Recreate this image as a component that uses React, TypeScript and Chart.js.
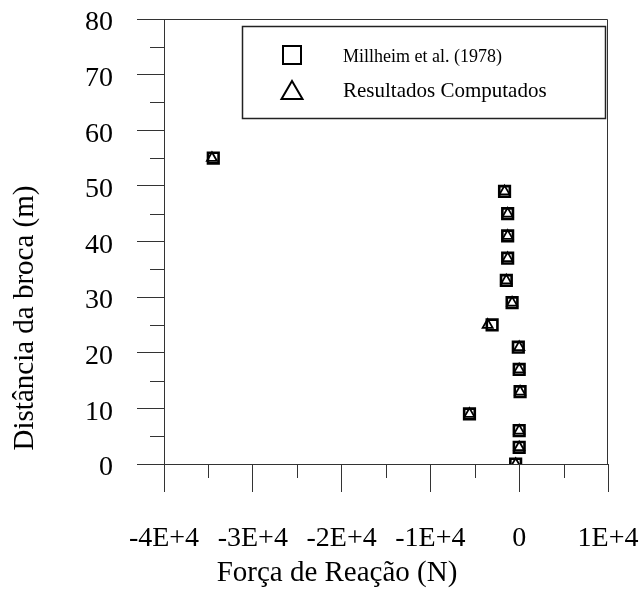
import React, { useEffect, useRef } from 'react';
import { Chart, registerables } from 'chart.js';

Chart.register(...registerables);

// ---- Data ----
const depths = [0, 3, 6, 9, 13, 17, 21, 25, 29, 33, 37, 41, 45, 49, 55];
const forceMillheim = [-400, 0, 0, -5600, 100, 0, -100, -3050, -800, -1450, -1300, -1300, -1300, -1650, -34450];
const forceComputed = [-400, 0, 0, -5600, 100, 0, 0, -3550, -800, -1450, -1300, -1300, -1300, -1650, -34600];
const seriesLabels = ['Millheim et al. (1978)', 'Resultados Computados'];
const xTitle = 'Força de Reação (N)';
const yTitle = 'Distância da broca (m)';
const xMin = -40000;
const xMax = 10000;
const xStep = 10000;
const yMin = 0;
const yMax = 80;
const yStep = 10;

const FONT = "'Liberation Serif', 'Times New Roman', serif";
const LINE = '#333';

const framePlugin = {
  id: 'frameAndLegend',
  afterDraw(chart: any) {
    const { ctx, chartArea, scales } = chart;
    const x = scales.x;
    const y = scales.y;
    ctx.save();
    ctx.strokeStyle = LINE;
    ctx.lineWidth = 1;
    ctx.beginPath();
    // minor ticks
    for (let v = yMin + yStep / 2; v < yMax; v += yStep) {
      const py = Math.round(y.getPixelForValue(v)) + 0.5;
      ctx.moveTo(chartArea.left - 14, py);
      ctx.lineTo(chartArea.left, py);
    }
    for (let v = xMin + xStep / 2; v < xMax; v += xStep) {
      const px = Math.round(x.getPixelForValue(v)) + 0.5;
      ctx.moveTo(px, chartArea.bottom);
      ctx.lineTo(px, chartArea.bottom + 14);
    }
    // top and right frame
    const t = Math.round(chartArea.top) + 0.5;
    const r = Math.round(chartArea.right) - 0.5;
    ctx.moveTo(chartArea.left, t);
    ctx.lineTo(r, t);
    ctx.lineTo(r, chartArea.bottom);
    ctx.stroke();

    // axis titles
    ctx.fillStyle = '#000';
    ctx.font = `29px ${FONT}`;
    ctx.textAlign = 'center';
    ctx.textBaseline = 'alphabetic';
    ctx.fillText(xTitle, 337, 581);
    ctx.save();
    ctx.translate(33, 318);
    ctx.rotate(-Math.PI / 2);
    ctx.fillText(yTitle, 0, 0);
    ctx.restore();

    // legend box
    ctx.strokeStyle = '#222';
    ctx.lineWidth = 1.5;
    ctx.strokeRect(242.5, 26.5, 363, 92);

    // legend markers
    ctx.strokeStyle = '#000';
    ctx.lineWidth = 2;
    ctx.strokeRect(283, 46, 18, 18);
    ctx.beginPath();
    ctx.moveTo(292, 81);
    ctx.lineTo(302.5, 99);
    ctx.lineTo(281.5, 99);
    ctx.closePath();
    ctx.stroke();

    // legend text
    ctx.fillStyle = '#000';
    ctx.textAlign = 'left';
    ctx.textBaseline = 'middle';
    ctx.font = `18px ${FONT}`;
    ctx.fillText(seriesLabels[0], 343, 57);
    ctx.font = `21px ${FONT}`;
    ctx.fillText(seriesLabels[1], 343, 91);
    ctx.restore();
  },
};

export default function App() {
  const ref = useRef<HTMLCanvasElement>(null);

  useEffect(() => {
    if (!ref.current) return;
    const chart = new Chart(ref.current, {
      type: 'scatter',
      data: {
        datasets: [
          {
            label: seriesLabels[0],
            data: depths.map((d, i) => ({ x: forceMillheim[i], y: d })),
            pointStyle: 'rect',
            pointRadius: 7.5,
            pointBorderWidth: 2.6,
            pointBorderColor: '#000',
            pointBackgroundColor: 'rgba(0,0,0,0)',
          },
          {
            label: seriesLabels[1],
            data: depths.map((d, i) => ({ x: forceComputed[i], y: d })),
            pointStyle: 'triangle',
            pointRadius: 5.8,
            pointBorderWidth: 1.8,
            pointBorderColor: '#000',
            pointBackgroundColor: '#fff',
          },
        ],
      },
      options: {
        responsive: false,
        animation: false,
        events: [],
        layout: { padding: { top: 19, right: 36, bottom: 0, left: 0 } },
        plugins: {
          legend: { display: false },
          tooltip: { enabled: false },
        },
        scales: {
          x: {
            type: 'linear',
            min: xMin,
            max: xMax,
            afterFit: (s: any) => {
              s.height = 128;
              s.paddingLeft = 0;
              s.paddingRight = 0;
            },
            ticks: {
              stepSize: xStep,
              padding: 30,
              color: '#000',
              font: { family: FONT, size: 28 },
              maxRotation: 0,
              autoSkip: false,
              callback: (v: any) => (v === 0 ? '0' : `${v / 10000}E+4`),
            },
            grid: {
              drawOnChartArea: false,
              drawTicks: true,
              tickLength: 28,
              color: LINE,
            },
            border: { display: true, color: LINE, width: 1 },
            title: { display: false },
          },
          y: {
            type: 'linear',
            min: yMin,
            max: yMax,
            afterFit: (s: any) => {
              s.width = 164;
              s.paddingTop = 0;
              s.paddingBottom = 0;
            },
            ticks: {
              stepSize: yStep,
              padding: 24,
              labelOffset: 4,
              color: '#000',
              font: { family: FONT, size: 28 },
              autoSkip: false,
            },
            grid: {
              drawOnChartArea: false,
              drawTicks: true,
              tickLength: 27,
              color: LINE,
            },
            border: { display: true, color: LINE, width: 1 },
            title: { display: false },
          },
        },
      },
      plugins: [framePlugin],
    });
    return () => chart.destroy();
  }, []);

  return (
    <div style={{ position: 'absolute', left: 0, top: 0, width: 644, height: 592, background: '#fff' }}>
      <canvas ref={ref} width={644} height={592} style={{ display: 'block' }} />
    </div>
  );
}
